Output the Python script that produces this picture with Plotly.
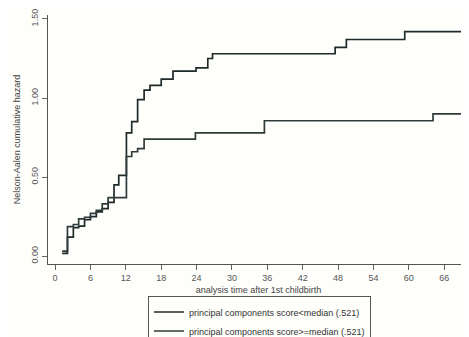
import plotly.graph_objects as go

# Upper curve (score < median)
t_low = [1.2, 2.1, 3.1, 4.0, 5.0, 6.0, 7.0, 8.0, 9.0, 10.0, 10.8, 12.1, 13.0, 14.0, 15.1, 16.1, 18.0, 20.0, 23.9, 25.9, 26.7, 47.5, 49.4, 59.3, 75]
h_low = [0.017, 0.12, 0.18, 0.19, 0.23, 0.25, 0.28, 0.30, 0.34, 0.45, 0.51, 0.78, 0.85, 0.99, 1.05, 1.08, 1.12, 1.17, 1.19, 1.25, 1.28, 1.32, 1.37, 1.42, 1.42]

# Lower curve (score >= median)
t_high = [1.2, 2.1, 3.1, 4.0, 5.0, 6.0, 7.0, 8.0, 9.0, 12.1, 13.0, 14.0, 15.1, 23.8, 35.5, 64.1, 75]
h_high = [0.032, 0.186, 0.20, 0.235, 0.245, 0.27, 0.29, 0.33, 0.37, 0.63, 0.66, 0.68, 0.74, 0.78, 0.856, 0.90, 0.90]

names = ["principal components score<median (.521)",
         "principal components score>=median (.521)"]
x_ticks = list(range(0, 67, 6))
y_ticks = [0, 0.5, 1.0, 1.5]
y_labels = ["0.00", "0.50", "1.00", "1.50"]

fig = go.Figure()
fig.add_trace(go.Scatter(x=t_low, y=h_low, mode="lines", line_shape="hv",
                         line=dict(color="#1f2a2a", width=1.7), name=names[0]))
fig.add_trace(go.Scatter(x=t_high, y=h_high, mode="lines", line_shape="hv",
                         line=dict(color="#2f3b3b", width=1.7), name=names[1]))

axis_font = dict(family="Arial, Liberation Sans, sans-serif", size=9, color="#555555")
fig.update_layout(
    width=469, height=337,
    margin=dict(l=40, r=8, t=7, b=81, autoexpand=False),
    paper_bgcolor="#fefefb", plot_bgcolor="#fefefb",
    font=axis_font,
    showlegend=True,
    legend=dict(x=0.2375, y=-0.1305, xanchor="left", yanchor="top",
                bordercolor="#555555", borderwidth=1, bgcolor="#fefefb",
                font=dict(family="Arial, Liberation Sans, sans-serif", size=9, color="#333333"),
                itemwidth=30, tracegroupgap=0),
    xaxis=dict(range=[-1.2, 70.2], tickvals=x_ticks, ticks="outside", ticklen=5,
               tickcolor="#666666", showline=True, linecolor="#555555", linewidth=1,
               showgrid=False, zeroline=False, automargin=False,
               title=dict(text="analysis time after 1st childbirth", font=dict(size=9, color="#444444"), standoff=4)),
    yaxis=dict(range=[-0.05, 1.525], tickvals=y_ticks, ticktext=y_labels, tickangle=-90,
               ticks="outside", ticklen=5, tickcolor="#666666", showline=True,
               linecolor="#555555", linewidth=1, showgrid=False, zeroline=False, automargin=False,
               title=dict(text="Nelson-Aalen cumulative hazard", font=dict(size=9, color="#444444"), standoff=8)),
)
fig.write_html("out.html")
